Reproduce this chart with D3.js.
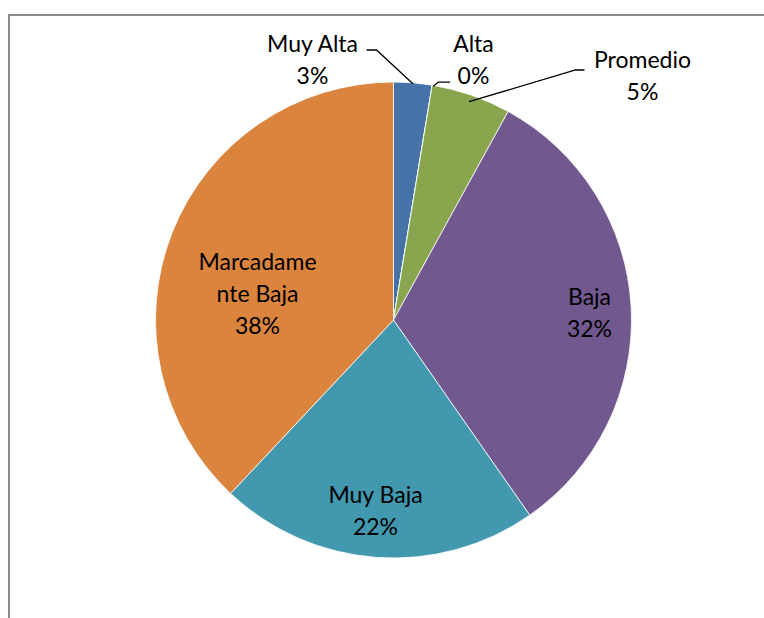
<!DOCTYPE html>
<html><head><meta charset="utf-8">
<script src="https://cdn.jsdelivr.net/npm/d3@7"></script>
<style>body{margin:0;background:#fff;}svg{display:block;}</style>
</head><body>
<script>
const categories = ["Muy Alta", "Alta", "Promedio", "Baja", "Muy Baja", "Marcadamente Baja"];
const values = [2.6, 0.0, 5.4, 32.3, 21.7, 38.0];
const colors = ["#4572A7", "#AA4643", "#89A54E", "#71588F", "#4198AF", "#DB843D"];
const labelLines = [["Muy Alta"], ["Alta"], ["Promedio"], ["Baja"], ["Muy Baja"], ["Marcadame", "nte Baja"]];

const W = 764, H = 618;
const cx = 393.5, cy = 320, R = 238;
const svg = d3.select("body").append("svg").attr("width", W).attr("height", H);

svg.append("path").attr("d", `M9,618 V15 H764`).attr("fill", "none").attr("stroke", "#8c8c8c").attr("stroke-width", 2);

const total = d3.sum(values);
const data = categories.map((c, i) => ({c, v: values[i], i}));
const pie = d3.pie().value(d => d.v).sort(null);
const arcs = pie(data);
const arc = d3.arc().innerRadius(0).outerRadius(R);
const g = svg.append("g").attr("transform", `translate(${cx},${cy})`);
g.selectAll("path.s").data(arcs).enter().append("path")
  .attr("d", arc).attr("fill", d => colors[d.data.i]).attr("stroke", "#fff").attr("stroke-width", 0.8);

const place = [
  {x: -81, y: -268, out: true, lx: -27, ly: -270},
  {x: 80, y: -268, out: true},
  {x: 249, y: -252, out: true, lx: 182, ly: -250},
  {x: 196, y: -15, out: false},
  {x: -18, y: 183, out: false},
  {x: -136, y: -50, out: false}
];
const font = "Lato, 'Open Sans', sans-serif";
arcs.forEach((d, k) => {
  const p = place[k];
  const pct = Math.round(d.data.v / total * 100) + "%";
  const lines = labelLines[k].concat([pct]);
  const t = g.append("text").attr("text-anchor", "middle").attr("font-family", font)
    .attr("font-size", 23).attr("fill", "#000");
  lines.forEach((ln, j) => {
    t.append("tspan").attr("x", p.x).attr("y", p.y + j * 32).text(ln);
  });
  if (p.out) {
    const mid = (d.startAngle + d.endAngle) / 2;
    const ex = Math.sin(mid) * R, ey = -Math.cos(mid) * R;
    let pts;
    if (k === 0) pts = [[ex, ey + 1], [p.lx + 10, p.ly], [p.lx, p.ly]];
    else if (k === 1) pts = [[ex + 1, ey + 1], [ex + 6, ey - 3], [ex + 18, ey - 3]];
    else pts = [[Math.sin(mid) * (R - 7), -Math.cos(mid) * (R - 7)], [p.lx, p.ly], [p.lx + 9, p.ly]];
    g.append("path").attr("d", d3.line()(pts)).attr("fill", "none").attr("stroke", "#000").attr("stroke-width", 1.3);
  }
});
</script>
</body></html>
